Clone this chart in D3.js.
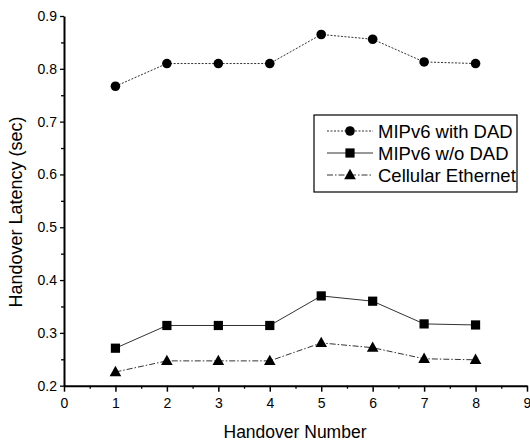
<!DOCTYPE html>
<html>
<head>
<meta charset="utf-8">
<script src="https://cdn.jsdelivr.net/npm/d3@7"></script>
<style>
  html, body { margin: 0; padding: 0; background: #fff; }
  svg { display: block; font-family: "Liberation Sans", Arial, sans-serif; }
</style>
</head>
<body>
<svg id="chart" width="530" height="443"></svg>
<script>
const handoverNumbers = [1, 2, 3, 4, 5, 6, 7, 8];
const withDAD = [0.767, 0.810, 0.810, 0.810, 0.865, 0.856, 0.813, 0.810];
const withoutDAD = [0.271, 0.314, 0.314, 0.314, 0.370, 0.360, 0.317, 0.315];
const cellularEthernet = [0.226, 0.247, 0.247, 0.247, 0.281, 0.272, 0.251, 0.249];
const seriesNames = ["MIPv6 with DAD", "MIPv6 w/o DAD", "Cellular Ethernet"];
const xTicks = [0, 1, 2, 3, 4, 5, 6, 7, 8, 9];
const yTicks = [0.2, 0.3, 0.4, 0.5, 0.6, 0.7, 0.8, 0.9];
const xTitle = "Handover Number";
const yTitle = "Handover Latency (sec)";

const svg = d3.select("#chart");
const x = d3.scaleLinear().domain([0, 9]).range([64, 527]);
const y = d3.scaleLinear().domain([0.2, 0.9]).range([385.7, 16]);

const series = [
  { name: seriesNames[0], values: withDAD, shape: "circle", dash: "2,1.5" },
  { name: seriesNames[1], values: withoutDAD, shape: "square", dash: null },
  { name: seriesNames[2], values: cellularEthernet, shape: "triangle", dash: "6,2,1.5,2" }
];

function marker(g, shape, cx, cy) {
  if (shape === "circle") {
    g.append("circle").attr("cx", cx).attr("cy", cy).attr("r", 4.8).attr("fill", "#000");
  } else if (shape === "square") {
    g.append("rect").attr("x", cx - 4.6).attr("y", cy - 4.6).attr("width", 9.2).attr("height", 9.2).attr("fill", "#000");
  } else {
    g.append("path").attr("d", `M${cx},${cy - 6.2}L${cx + 5.8},${cy + 4.2}L${cx - 5.8},${cy + 4.2}Z`).attr("fill", "#000");
  }
}

// Axes: minor ticks
const xMinor = d3.range(0.5, 9, 1);
const yMinor = d3.range(0.25, 0.9, 0.1);
svg.append("g").attr("transform", "translate(0,385.7)")
  .call(d3.axisBottom(x).tickValues(xMinor).tickSize(3).tickFormat(""))
  .call(g => g.select(".domain").remove())
  .call(g => g.selectAll("line").attr("stroke", "#000").attr("stroke-width", 1.3));
svg.append("g").attr("transform", "translate(64,0)")
  .call(d3.axisLeft(y).tickValues(yMinor).tickSize(3).tickFormat(""))
  .call(g => g.select(".domain").remove())
  .call(g => g.selectAll("line").attr("stroke", "#000").attr("stroke-width", 1.3));

// Major axes
const xAxis = svg.append("g").attr("transform", "translate(0,385.7)")
  .call(d3.axisBottom(x).tickValues(xTicks).tickSize(6).tickSizeOuter(0).tickFormat(d3.format("d")).tickPadding(6));
xAxis.select(".domain").attr("stroke", "#000").attr("stroke-width", 2);
xAxis.selectAll("line").attr("stroke", "#000").attr("stroke-width", 1.5);
xAxis.selectAll("text").attr("font-size", 14).attr("fill", "#000")
  .attr("font-family", "'Liberation Sans', Arial, sans-serif");

const yAxis = svg.append("g").attr("transform", "translate(64,0)")
  .call(d3.axisLeft(y).tickValues(yTicks).tickSize(4).tickSizeOuter(0).tickFormat(d3.format(".1f")).tickPadding(3));
yAxis.select(".domain").attr("stroke", "#000").attr("stroke-width", 2);
yAxis.selectAll("line").attr("stroke", "#000").attr("stroke-width", 1.3);
yAxis.selectAll("text").attr("font-size", 14).attr("fill", "#000")
  .attr("font-family", "'Liberation Sans', Arial, sans-serif");

// Titles
svg.append("text").attr("x", 295).attr("y", 438).attr("text-anchor", "middle")
  .attr("font-size", 17.5).attr("fill", "#000").text(xTitle);
svg.append("text").attr("transform", "translate(22,212) rotate(-90)").attr("text-anchor", "middle")
  .attr("font-size", 18).attr("fill", "#000").text(yTitle);

// Series
const line = d3.line().x((d, i) => x(handoverNumbers[i])).y(d => y(d));
series.forEach(s => {
  svg.append("path").datum(s.values).attr("d", line)
    .attr("fill", "none").attr("stroke", "#333").attr("stroke-width", 1)
    .attr("stroke-dasharray", s.dash);
  const g = svg.append("g");
  s.values.forEach((v, i) => marker(g, s.shape, x(handoverNumbers[i]), y(v)));
});

// Legend
const lg = svg.append("g");
lg.append("rect").attr("x", 314).attr("y", 115).attr("width", 203).attr("height", 77)
  .attr("fill", "#fff").attr("stroke", "#000").attr("stroke-width", 1.2);
const rowY = [131, 153, 175];
series.forEach((s, i) => {
  lg.append("line").attr("x1", 327).attr("x2", 373).attr("y1", rowY[i]).attr("y2", rowY[i])
    .attr("stroke", "#333").attr("stroke-width", 1).attr("stroke-dasharray", s.dash);
  marker(lg, s.shape, 350, rowY[i]);
  lg.append("text").attr("x", 378).attr("y", rowY[i]).attr("dy", "0.36em")
    .attr("font-size", 18.5).attr("fill", "#000").text(s.name);
});
</script>
</body>
</html>
